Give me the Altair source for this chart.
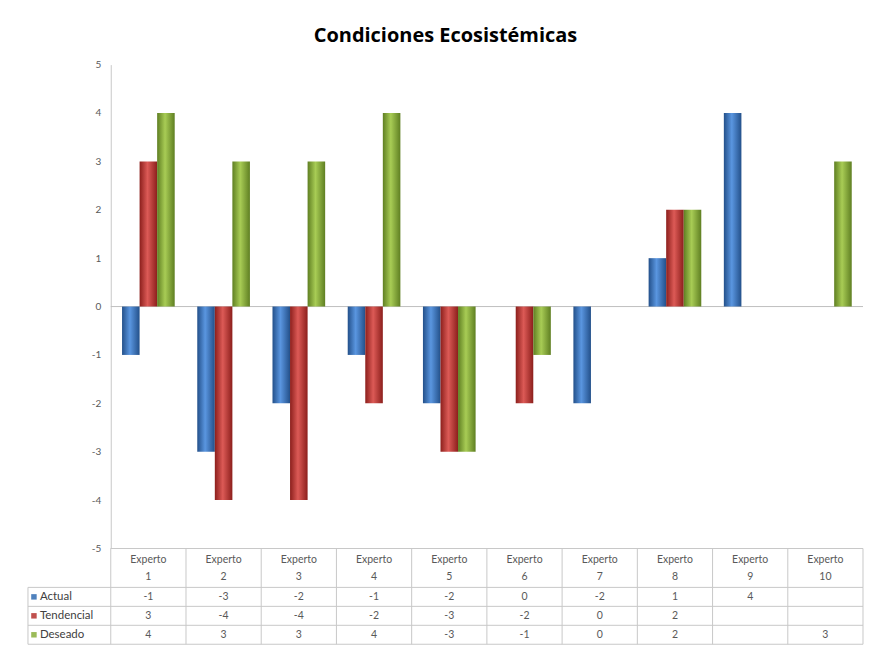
import altair as alt
import pandas as pd

categories = ["Experto 1", "Experto 2", "Experto 3", "Experto 4", "Experto 5",
              "Experto 6", "Experto 7", "Experto 8", "Experto 9", "Experto 10"]
header_labels = ["Experto\n1", "Experto\n2", "Experto\n3", "Experto\n4", "Experto\n5",
                 "Experto\n6", "Experto\n7", "Experto\n8", "Experto\n9", "Experto\n10"]
series = ["Actual", "Tendencial", "Deseado"]
actual = [-1, -3, -2, -1, -2, 0, -2, 1, 4, None]
tendencial = [3, -4, -4, -2, -3, -2, 0, 2, None, None]
deseado = [4, 3, 3, 4, -3, -1, 0, 2, None, 3]
series_colors = ["#4F81BD", "#C0504D", "#9BBB59"]
y_ticks = [-5, -4, -3, -2, -1, 0, 1, 2, 3, 4, 5]

values = {"Actual": actual, "Tendencial": tendencial, "Deseado": deseado}
rows = []
for s in series:
    for c, v in zip(categories, values[s]):
        rows.append({"cat": c, "series": s, "value": v,
                     "txt": "" if v is None else str(v)})
df = pd.DataFrame(rows)
df_bars = df[df["value"].notna()].copy()
df_cats = pd.DataFrame({"cat": categories, "label": header_labels})

W = 754
H_PLOT = 485
H_HEAD = 39
H_BODY = 57
GRID = "#c8c8c8"
FONT = "Lato"

gradients = {
    "Actual": ["#23508a", "#5a96e0", "#23508a"],
    "Tendencial": ["#8c1f1c", "#dc5a56", "#8c1f1c"],
    "Deseado": ["#5f7f22", "#a8cc55", "#5f7f22"],
}

x_scale = alt.Scale(domain=categories, paddingInner=0.3, paddingOuter=0.15)
xoff_scale = alt.Scale(domain=series, paddingInner=0, paddingOuter=0)
y_scale = alt.Scale(domain=[-5, 5], nice=False, zero=True)

layers = []
zero_df = pd.DataFrame({"z": [0]})
layers.append(
    alt.Chart(zero_df).mark_rule(color="#bfbfbf", strokeWidth=1).encode(
        y=alt.Y("z:Q", scale=y_scale,
                axis=alt.Axis(values=y_ticks, grid=False, ticks=False, domainColor="#c8c8c8",
                              labelColor="#595959", labelFontSize=10, labelPadding=10,
                              labelExpr="datum.value + ''",
                              labelFont=FONT, title=None))
    )
)
for s in series:
    st = gradients[s]
    grad = alt.Gradient(
        gradient="linear", x1=0, x2=1, y1=0, y2=0,
        stops=[alt.GradientStop(color=st[0], offset=0),
               alt.GradientStop(color=st[1], offset=0.45),
               alt.GradientStop(color=st[2], offset=1)])
    layers.append(
        alt.Chart(df_bars).transform_filter(alt.datum.series == s).mark_bar(fill=grad).encode(
            x=alt.X("cat:N", scale=x_scale, axis=None, sort=categories),
            xOffset=alt.XOffset("series:N", scale=xoff_scale, sort=series),
            y=alt.Y("value:Q", scale=y_scale),
        )
    )
top = alt.layer(*layers).properties(width=W, height=H_PLOT)

band = alt.Scale(domain=categories, paddingInner=0, paddingOuter=0)

# Header row
head_text = alt.Chart(df_cats).mark_text(
    lineBreak="\n", fontSize=10.5, color="#595959", font=FONT, baseline="middle", lineHeight=17
).encode(
    x=alt.X("cat:N", scale=band, axis=None, sort=categories),
    y=alt.value(12),
    text="label:N",
)
head_vlines = alt.Chart(df_cats).mark_rule(color=GRID).encode(
    x=alt.X("cat:N", scale=band, axis=None, sort=categories, bandPosition=0),
)
head_right = alt.Chart(df_cats).transform_filter(alt.datum.cat == categories[-1]).mark_rule(color=GRID).encode(
    x=alt.X("cat:N", scale=band, axis=None, sort=categories, bandPosition=1),
)
head_top = alt.Chart(df_cats.head(1)).mark_rule(color=GRID).encode(
    x=alt.value(0), x2=alt.value(W), y=alt.value(0)
)
header = alt.layer(head_vlines, head_right, head_top, head_text).properties(width=W, height=H_HEAD)

# Body rows
yband = alt.Scale(domain=series, paddingInner=0, paddingOuter=0)
color_scale = alt.Scale(domain=series, range=series_colors)
df_series = pd.DataFrame({"series": series})

cell_text = alt.Chart(df).mark_text(fontSize=10.5, color="#595959", font=FONT, baseline="middle").encode(
    x=alt.X("cat:N", scale=band, axis=None, sort=categories),
    y=alt.Y("series:N", scale=yband, axis=None, sort=series),
    text="txt:N",
)
row_lines = alt.Chart(df_series).mark_rule(color=GRID).encode(
    y=alt.Y("series:N", scale=yband, axis=None, sort=series, bandPosition=0),
    x=alt.value(-83), x2=alt.value(W),
)
row_bottom = alt.Chart(df_series).transform_filter(alt.datum.series == series[-1]).mark_rule(color=GRID).encode(
    y=alt.Y("series:N", scale=yband, axis=None, sort=series, bandPosition=1),
    x=alt.value(-83), x2=alt.value(W),
)
body_vlines = alt.Chart(df_cats).mark_rule(color=GRID).encode(
    x=alt.X("cat:N", scale=band, axis=None, sort=categories, bandPosition=0),
)
body_right = alt.Chart(df_cats).transform_filter(alt.datum.cat == categories[-1]).mark_rule(color=GRID).encode(
    x=alt.X("cat:N", scale=band, axis=None, sort=categories, bandPosition=1),
)
body_left = alt.Chart(df_cats.head(1)).mark_rule(color=GRID).encode(
    x=alt.value(-83), y=alt.value(0), y2=alt.value(H_BODY)
)
keys = alt.Chart(df_series).mark_square(size=30, opacity=1).encode(
    x=alt.value(-77),
    y=alt.Y("series:N", scale=yband, axis=None, sort=series),
    color=alt.Color("series:N", scale=color_scale, legend=None),
)
row_labels = alt.Chart(df_series).mark_text(align="left", fontSize=11.5, color="#404040", font=FONT, baseline="middle").encode(
    x=alt.value(-71),
    y=alt.Y("series:N", scale=yband, axis=None, sort=series),
    text="series:N",
)
body = alt.layer(row_lines, row_bottom, body_vlines, body_right, body_left, keys, row_labels, cell_text).properties(
    width=W, height=H_BODY)

chart = alt.vconcat(top, header, body, spacing=0, bounds="flush").properties(
    title=alt.Title("Condiciones Ecosistémicas", fontSize=20, font="Open Sans", fontWeight="bold",
                    color="#000000", anchor="middle", offset=14),
    padding={"left": 19, "top": 17, "right": 5, "bottom": 0},
).resolve_scale(x="independent", y="independent", color="independent").configure_view(stroke=None)

chart.save("out.html", embed_options={"renderer": "svg", "actions": False})
